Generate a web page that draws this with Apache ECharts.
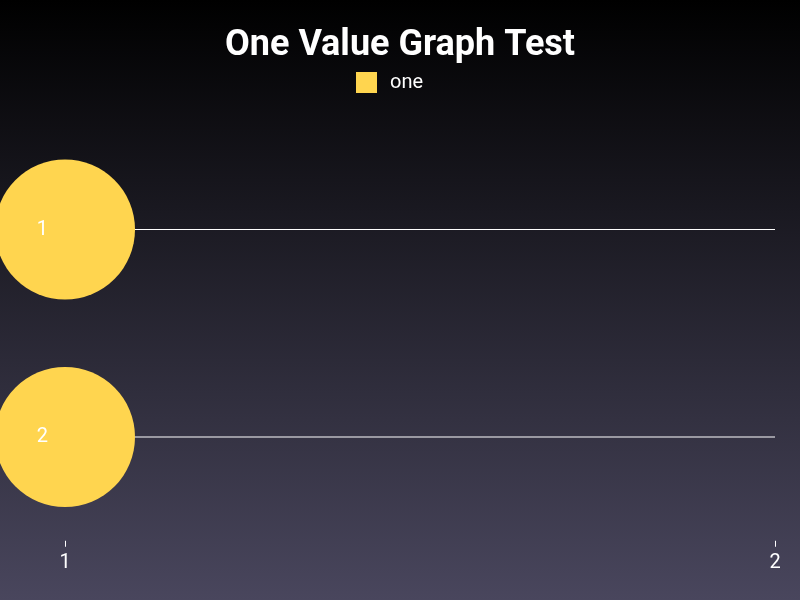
<!DOCTYPE html>
<html><head><meta charset="utf-8">
<script src="https://cdn.jsdelivr.net/npm/echarts@6/dist/echarts.min.js"></script>
<style>html,body{margin:0;padding:0;}#c{width:800px;height:600px;}</style>
</head><body><div id="c"></div>
<script>
const categories = ['1', '2'];
const xTicks = [1, 2];
const pointValues = [1, 1];
const lineValues = [2, 2];

const chart = echarts.init(document.getElementById('c'));
chart.setOption({
  backgroundColor: {
    type: 'linear', x: 0, y: 0, x2: 0, y2: 1,
    colorStops: [{offset: 0, color: '#000000'}, {offset: 1, color: '#49465d'}]
  },
  textStyle: {fontFamily: 'Roboto'},
  title: {
    text: 'One Value Graph Test', left: 'center', top: 23,
    textStyle: {color: '#fff', fontSize: 36, fontWeight: 'bold', fontFamily: 'Roboto'}
  },
  legend: {
    data: ['one'], top: 72, left: 356, itemWidth: 21, itemHeight: 21, itemGap: 10,
    icon: 'rect', padding: 0,
    textStyle: {color: '#fff', fontSize: 20, fontFamily: 'Roboto', padding: [0, 0, 0, 8]}
  },
  grid: {left: 65, right: 25, top: 125.75, bottom: 59.25, containLabel: false},
  xAxis: {
    type: 'value', min: xTicks[0], max: xTicks[xTicks.length - 1], interval: 1,
    axisLine: {show: false},
    axisTick: {show: true, length: 6, lineStyle: {color: '#fff'}},
    splitLine: {show: false},
    axisLabel: {color: '#fff', fontSize: 20, margin: 12, fontFamily: 'Roboto'}
  },
  yAxis: {
    type: 'category', data: categories, inverse: true, z: 10,
    axisLine: {show: false}, axisTick: {show: false}, splitLine: {show: false},
    axisLabel: {color: '#fff', fontSize: 20, margin: 17, fontFamily: 'Roboto'}
  },
  series: [
    {
      type: 'bar', name: 'line', data: lineValues, barWidth: 1, silent: true,
      itemStyle: {color: '#ffffff'}, z: 1, legendHoverLink: false
    },
    {
      type: 'scatter', name: 'one', symbol: 'circle', symbolSize: 140,
      data: pointValues.map((v, i) => [v, categories[i]]),
      itemStyle: {color: '#ffd54f', opacity: 1}, z: 3
    }
  ]
});
</script></body></html>
